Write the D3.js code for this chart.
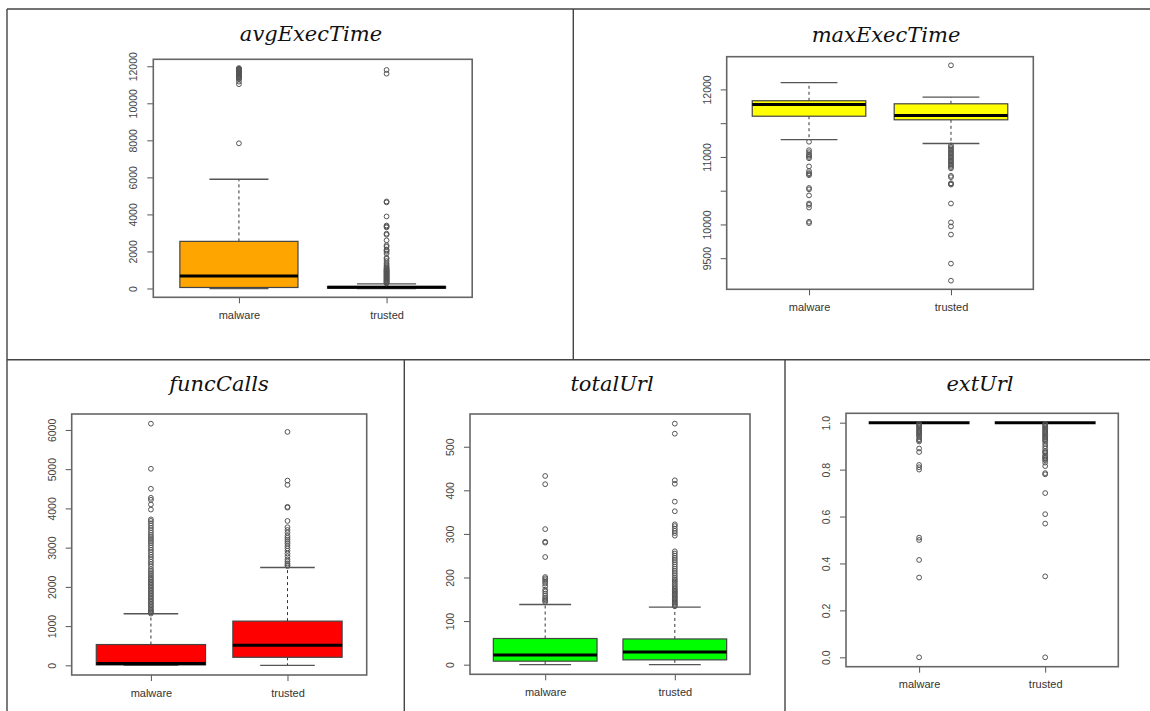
<!DOCTYPE html>
<html>
<head>
<meta charset="utf-8">
<script src="https://cdn.jsdelivr.net/npm/d3@7/dist/d3.min.js"></script>
<style>
  html, body { margin: 0; padding: 0; background: #fff; }
  svg { display: block; }
</style>
</head>
<body>
<svg id="svg"></svg>
<script>
// groups on every panel
const groups = ["malware", "trusted"];

// box stats per group: [lower whisker, q1, median, q3, upper whisker]
const avgExecTimeStats = [[0, 54, 680, 2545, 5900], [0, 15, 60, 110, 250]];
const avgExecTimeOutliers = [
  [7840, 11030, 11170, 11300, 11340, 11380, 11420, 11460, 11500, 11540, 11570, 11600,
   11630, 11660, 11690, 11720, 11750, 11780, 11810, 11840, 11870, 11900],
  [270, 300, 330, 360, 390, 420, 450, 480, 510, 540, 570, 600, 630, 660, 690, 720, 750,
   780, 810, 840, 870, 900, 930, 960, 990, 1020, 1060, 1100, 1150, 1200, 1280, 1360,
   1480, 1600, 1650, 1880, 1980, 2050, 2100, 2250, 2330, 2600, 2900, 2960, 3300, 3350,
   3400, 3890, 4650, 4700, 11600, 11800]
];
const avgExecTimeTicks = [0, 2000, 4000, 6000, 8000, 10000, 12000];
const avgExecTimeTickLabels = ["0", "2000", "4000", "6000", "8000", "10000", "12000"];

const maxExecTimeStats = [[11257, 11603, 11777, 11832, 12100], [11198, 11550, 11614, 11787, 11886]];
const maxExecTimeOutliers = [
  [11225, 11100, 11070, 11040, 11020, 11000, 10980, 10860, 10790, 10760, 10745, 10730,
   10540, 10520, 10430, 10310, 10290, 10250, 10040, 10020],
  [12357, 11170, 11150, 11130, 11110, 11090, 11070, 11050, 11030, 11010, 10990, 10970,
   10950, 10930, 10910, 10890, 10870, 10850, 10830, 10720, 10700, 10610, 10600, 10590,
   10310, 10030, 9970, 9850, 9420, 9167]
];
const maxExecTimeTicks = [9500, 10000, 10500, 11000, 11500, 12000];
const maxExecTimeTickLabels = ["9500", "10000", "", "11000", "", "12000"];

const funcCallsStats = [[0, 10, 44, 530, 1314], [0, 205, 512, 1127, 2492]];
const funcCallsOutliers = [
  [1320, 1350, 1380, 1410, 1450, 1490, 1530, 1570, 1610, 1650, 1690, 1730, 1770, 1810,
   1850, 1890, 1930, 1970, 2010, 2050, 2090, 2130, 2170, 2210, 2250, 2300, 2350, 2400,
   2450, 2520, 2580, 2640, 2700, 2760, 2820, 2880, 2940, 3000, 3060, 3120, 3170, 3220,
   3270, 3320, 3380, 3440, 3500, 3560, 3620, 3680, 3720, 3970, 4100, 4220, 4270, 4500,
   5010, 6160],
  [2530, 2560, 2600, 2650, 2700, 2780, 2850, 2920, 2980, 3040, 3100, 3150, 3200, 3250,
   3300, 3380, 3450, 3520, 3680, 4020, 4040, 4600, 4710, 5950]
];
const funcCallsTicks = [0, 1000, 2000, 3000, 4000, 5000, 6000];
const funcCallsTickLabels = ["0", "1000", "2000", "3000", "4000", "5000", "6000"];

const totalUrlStats = [[0, 8, 22, 60, 138], [0, 11, 29, 59, 132]];
const totalUrlOutliers = [
  [144, 147, 150, 153, 158, 163, 168, 172, 180, 186, 190, 194, 198, 201, 247, 280, 282,
   311, 414, 433],
  [134, 137, 140, 143, 146, 149, 152, 155, 158, 161, 164, 167, 170, 173, 176, 180, 184,
   188, 192, 196, 200, 205, 210, 215, 220, 225, 230, 235, 240, 245, 250, 255, 260, 296,
   302, 307, 312, 318, 322, 352, 374, 415, 423, 530, 553]
];
const totalUrlTicks = [0, 100, 200, 300, 400, 500];
const totalUrlTickLabels = ["0", "100", "200", "300", "400", "500"];

const extUrlStats = [[1, 1, 1, 1, 1], [1, 1, 1, 1, 1]];
const extUrlOutliers = [
  [0.995, 0.99, 0.985, 0.98, 0.975, 0.97, 0.965, 0.96, 0.955, 0.95, 0.945, 0.94, 0.93,
   0.925, 0.92, 0.89, 0.875, 0.82, 0.81, 0.80, 0.51, 0.50, 0.415, 0.34, 0],
  [0.995, 0.99, 0.985, 0.98, 0.975, 0.97, 0.965, 0.96, 0.955, 0.95, 0.945, 0.94, 0.935,
   0.93, 0.925, 0.92, 0.91, 0.90, 0.89, 0.88, 0.875, 0.87, 0.86, 0.855, 0.85, 0.845,
   0.84, 0.83, 0.815, 0.785, 0.78, 0.70, 0.61, 0.57, 0.345, 0]
];
const extUrlTicks = [0, 0.2, 0.4, 0.6, 0.8, 1.0];
const extUrlTickLabels = ["0.0", "0.2", "0.4", "0.6", "0.8", "1.0"];

const panels = [
  {name: "avgExecTime", color: "#ffa500", stats: avgExecTimeStats, outliers: avgExecTimeOutliers,
   ticks: avgExecTimeTicks, tickLabels: avgExecTimeTickLabels},
  {name: "maxExecTime", color: "#ffff00", stats: maxExecTimeStats, outliers: maxExecTimeOutliers,
   ticks: maxExecTimeTicks, tickLabels: maxExecTimeTickLabels},
  {name: "funcCalls", color: "#ff0000", stats: funcCallsStats, outliers: funcCallsOutliers,
   ticks: funcCallsTicks, tickLabels: funcCallsTickLabels},
  {name: "totalUrl", color: "#00ff00", stats: totalUrlStats, outliers: totalUrlOutliers,
   ticks: totalUrlTicks, tickLabels: totalUrlTickLabels},
  {name: "extUrl", color: "#00ff00", stats: extUrlStats, outliers: extUrlOutliers,
   ticks: extUrlTicks, tickLabels: extUrlTickLabels}
];

let layout = {"width": 1150, "height": 711,
  "frames": {
    "avgExecTime": {left: 153.3, right: 472.2, top: 59.3, bottom: 297.3, titleX: 311, titleY: 41},
    "maxExecTime": {left: 726.7, right: 1033.3, top: 56.7, bottom: 289.3, titleX: 886, titleY: 42},
    "funcCalls":   {left: 71.7, right: 366.7, top: 414, bottom: 675, titleX: 219, titleY: 391},
    "totalUrl":    {left: 470, right: 750, top: 414, bottom: 674.3, titleX: 612, titleY: 391},
    "extUrl":      {left: 846, right: 1118.3, top: 413.3, bottom: 666.7, titleX: 980, titleY: 391}
  }
};

let svg = d3.select("#svg")
  .attr("width", layout.width)
  .attr("height", layout.height)
  .style("background", "#fff");

// table cell borders
const rowSplit = 359.7;
const cellLines = [
  [7, 9, 1150, 9], [7, 9, 7, 711], [573.3, 9, 573.3, rowSplit], [7, rowSplit, 1150, rowSplit],
  [404.3, rowSplit, 404.3, 711], [785, rowSplit, 785, 711]
];
svg.append("g").selectAll("line")
  .data(cellLines)
  .join("line")
  .attr("x1", d => d[0]).attr("y1", d => d[1])
  .attr("x2", d => d[2]).attr("y2", d => d[3])
  .attr("stroke", "#444")
  .attr("stroke-width", 1.4);

panels.forEach(drawPanel);

function drawPanel(p) {
  const f = layout.frames[p.name];
  const g = svg.append("g").attr("class", "panel");

  // R style limits: data range padded by 4%
  const all = p.stats.flat().concat(p.outliers.flat());
  const [lo, hi] = d3.extent(all);
  const pad = (hi - lo) * 0.04;

  const yScale = d3.scaleLinear().domain([lo - pad, hi + pad]).range([f.bottom, f.top]);
  const xScale = d3.scalePoint().domain(groups).range([f.left, f.right]).padding(0.58);
  const half = xScale.step() * 0.4;

  const rows = groups.map((grp, i) => ({grp, s: p.stats[i], out: p.outliers[i]}));

  // whiskers
  g.selectAll(".whisker")
    .data(rows.flatMap(r => [[r.grp, r.s[3], r.s[4]], [r.grp, r.s[1], r.s[0]]]))
    .join("line")
    .attr("class", "whisker")
    .attr("x1", d => xScale(d[0])).attr("x2", d => xScale(d[0]))
    .attr("y1", d => yScale(d[1])).attr("y2", d => yScale(d[2]))
    .attr("stroke", "#333")
    .attr("stroke-width", 1)
    .attr("stroke-dasharray", "3,3");

  // staples
  g.selectAll(".staple")
    .data(rows.flatMap(r => [[r.grp, r.s[0]], [r.grp, r.s[4]]]))
    .join("line")
    .attr("class", "staple")
    .attr("x1", d => xScale(d[0]) - half / 2).attr("x2", d => xScale(d[0]) + half / 2)
    .attr("y1", d => yScale(d[1])).attr("y2", d => yScale(d[1]))
    .attr("stroke", "#555")
    .attr("stroke-width", 1.4);

  // boxes
  g.selectAll(".box")
    .data(rows)
    .join("rect")
    .attr("class", "box")
    .attr("x", d => xScale(d.grp) - half)
    .attr("width", half * 2)
    .attr("y", d => yScale(d.s[3]))
    .attr("height", d => yScale(d.s[1]) - yScale(d.s[3]))
    .attr("fill", p.color)
    .attr("stroke", "#444")
    .attr("stroke-width", 1.2);

  // medians
  g.selectAll(".median")
    .data(rows)
    .join("line")
    .attr("class", "median")
    .attr("x1", d => xScale(d.grp) - half).attr("x2", d => xScale(d.grp) + half)
    .attr("y1", d => yScale(d.s[2])).attr("y2", d => yScale(d.s[2]))
    .attr("stroke", "#000")
    .attr("stroke-width", 3);

  // outliers
  g.selectAll(".outlier")
    .data(rows.flatMap(r => r.out.map(v => [r.grp, v])))
    .join("circle")
    .attr("class", "outlier")
    .attr("cx", d => xScale(d[0]))
    .attr("cy", d => yScale(d[1]))
    .attr("r", 2.4)
    .attr("fill", "none")
    .attr("stroke", "#555")
    .attr("stroke-width", 1);

  // y axis, labels parallel to the axis
  g.append("g")
    .attr("transform", `translate(${f.left},0)`)
    .call(d3.axisLeft(yScale).tickValues(p.ticks).tickFormat((d, i) => p.tickLabels[i]).tickSize(6))
    .call(a => a.select(".domain").remove())
    .call(a => a.selectAll("line").attr("stroke", "#555"))
    .call(a => a.selectAll("text")
      .attr("x", 0).attr("dy", null)
      .attr("text-anchor", "middle")
      .attr("transform", "translate(-16,0) rotate(-90)")
      .attr("fill", "#444")
      .style("font", "10.5px 'Liberation Sans', Arial, sans-serif"));

  // x axis
  g.append("g")
    .attr("transform", `translate(0,${f.bottom})`)
    .call(d3.axisBottom(xScale).tickSize(6).tickPadding(8))
    .call(a => a.select(".domain").remove())
    .call(a => a.selectAll("line").attr("stroke", "#555"))
    .call(a => a.selectAll("text")
      .attr("fill", "#333")
      .style("font", "11px 'Liberation Sans', Arial, sans-serif"));

  // plot frame
  g.append("rect")
    .attr("x", f.left).attr("y", f.top)
    .attr("width", f.right - f.left).attr("height", f.bottom - f.top)
    .attr("fill", "none")
    .attr("stroke", "#666")
    .attr("stroke-width", 1.6);

  // title
  g.append("text")
    .attr("x", f.titleX).attr("y", f.titleY)
    .attr("text-anchor", "middle")
    .attr("fill", "#111")
    .style("font", "italic 21px 'DejaVu Serif', serif")
    .text(p.name);
}
</script>
</body>
</html>
